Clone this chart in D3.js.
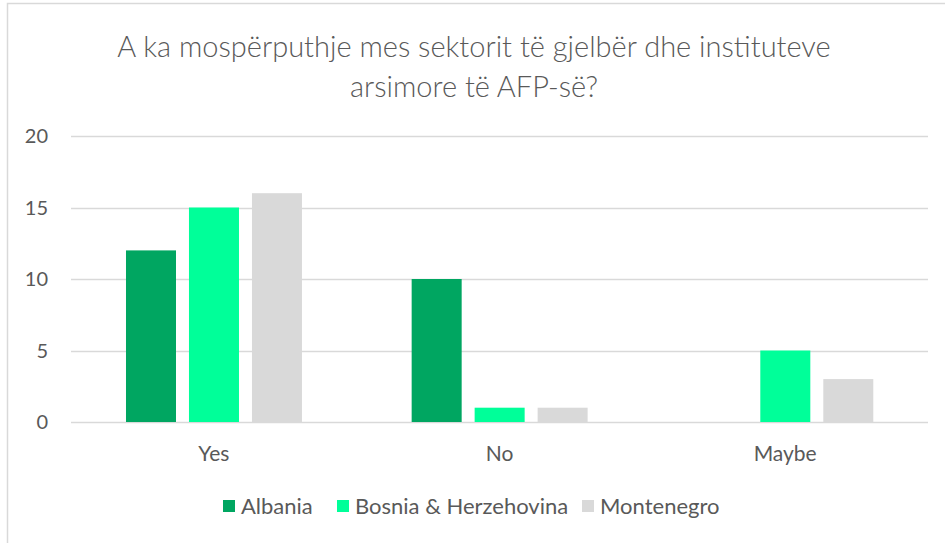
<!DOCTYPE html>
<html>
<head>
<meta charset="utf-8">
<script src="https://cdn.jsdelivr.net/npm/d3@7"></script>
<style>
  body { margin: 0; background: #fff; }
  text { font-family: Lato, "Open Sans", sans-serif; fill: #595959; }
</style>
</head>
<body>
<div id="chart"></div>
<script>
// data
var categories = ["Yes", "No", "Maybe"];
var series = ["Albania", "Bosnia & Herzehovina", "Montenegro"];
var albania = [12, 10, 0];
var bosnia = [15, 1, 5];
var montenegro = [16, 1, 3];
var yTicks = [0, 5, 10, 15, 20];
var titleLines = ["A ka mospërputhje mes sektorit të gjelbër dhe instituteve", "arsimore të AFP-së?"];

var colors = ["#00a661", "#00ff99", "#d9d9d9"];
var values = [albania, bosnia, montenegro];

var width = 945, height = 543;
var plot = {left: 71, right: 928, top: 136, bottom: 422};

var svg = d3.select("#chart")
  .append("svg")
  .attr("width", width)
  .attr("height", height);

// chart border
svg.append("rect")
  .attr("x", 7.5)
  .attr("y", 3.5)
  .attr("width", 960)
  .attr("height", 560)
  .attr("fill", "#fff")
  .attr("stroke", "#d9d9d9")
  .attr("stroke-width", 1.5);

// title
svg.selectAll(".title")
  .data(titleLines)
  .enter()
  .append("text")
  .attr("class", "title")
  .attr("x", 474)
  .attr("y", function(d, i) { return 57 + i * 40; })
  .attr("text-anchor", "middle")
  .style("font-size", "29px")
  .style("font-weight", 300)
  .text(function(d) { return d; });

// scales
var y = d3.scaleLinear().domain([0, 20]).range([plot.bottom, plot.top]);
var x0 = d3.scaleBand().domain(categories).range([plot.left, plot.right]).padding(0);
var bw = x0.bandwidth();
var x1 = d3.scaleBand().domain(series)
  .range([bw * 0.1925, bw * 0.8085])
  .paddingInner(0.206);

// gridlines
svg.append("g")
  .selectAll("line")
  .data(yTicks)
  .enter()
  .append("line")
  .attr("x1", plot.left)
  .attr("x2", plot.right)
  .attr("y1", function(d) { return Math.round(y(d)) + 0.5; })
  .attr("y2", function(d) { return Math.round(y(d)) + 0.5; })
  .attr("stroke", "#d9d9d9")
  .attr("stroke-width", 1.5);

// y tick labels
svg.append("g")
  .selectAll("text")
  .data(yTicks)
  .enter()
  .append("text")
  .attr("x", 48)
  .attr("y", function(d) { return y(d); })
  .attr("dy", "0.35em")
  .attr("text-anchor", "end")
  .style("font-size", "20px")
  .text(function(d) { return d; });

// bars
series.forEach(function(s, si) {
  svg.append("g")
    .selectAll("rect")
    .data(values[si])
    .enter()
    .append("rect")
    .attr("x", function(d, i) { return x0(categories[i]) + x1(s); })
    .attr("y", function(d) { return y(d); })
    .attr("width", x1.bandwidth())
    .attr("height", function(d) { return y(0) - y(d); })
    .attr("fill", colors[si]);
});

// category labels
svg.append("g")
  .selectAll("text")
  .data(categories)
  .enter()
  .append("text")
  .attr("x", function(d) { return x0(d) + bw / 2; })
  .attr("y", 454)
  .attr("dy", "0.35em")
  .attr("text-anchor", "middle")
  .style("font-size", "21px")
  .text(function(d) { return d; });

// legend
var legendX = [223, 337, 582];
var legend = svg.append("g")
  .selectAll("g")
  .data(series)
  .enter()
  .append("g")
  .attr("transform", function(d, i) { return "translate(" + legendX[i] + ",500)"; });

legend.append("rect")
  .attr("width", 12)
  .attr("height", 12)
  .attr("fill", function(d, i) { return colors[i]; });

legend.append("text")
  .attr("x", 18)
  .attr("y", 6)
  .attr("dy", "0.35em")
  .style("font-size", "22px")
  .text(function(d) { return d; });
</script>
</body>
</html>
